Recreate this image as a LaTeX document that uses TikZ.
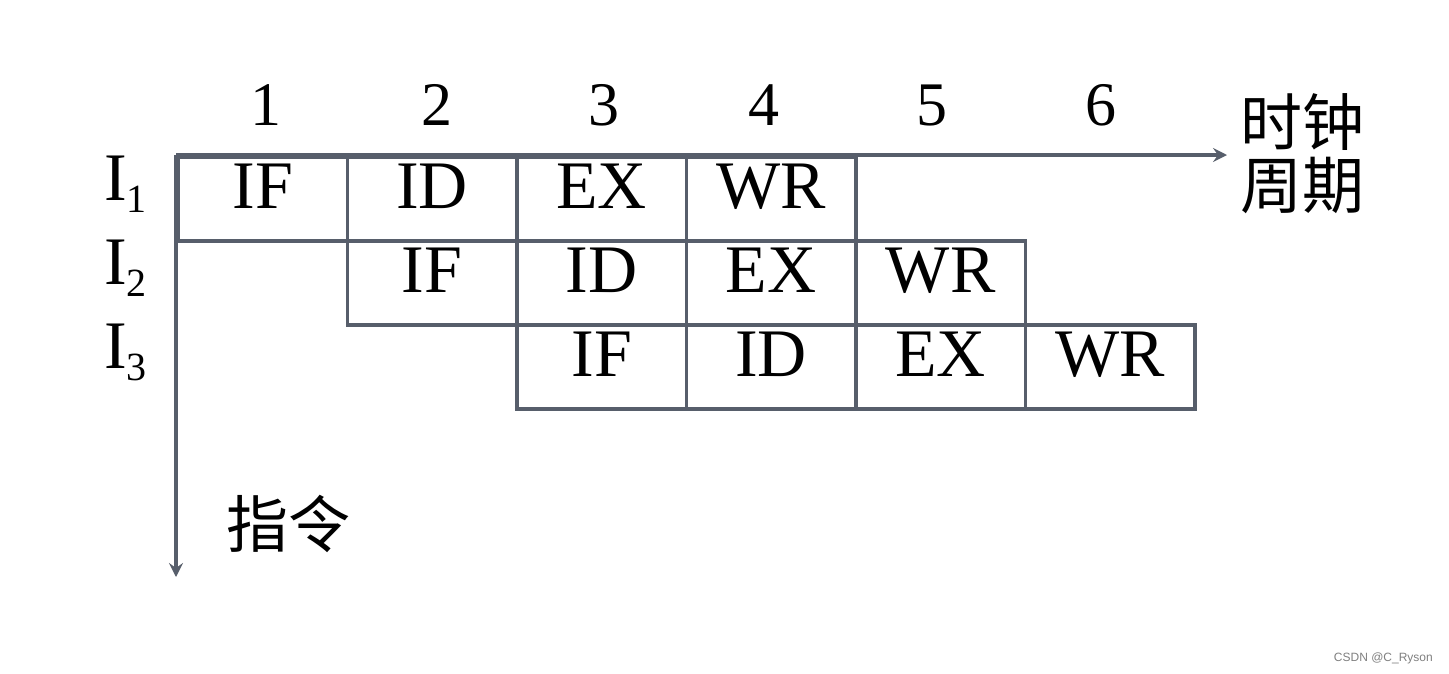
\documentclass[tikz,border=0pt]{standalone}
\usepackage{fontspec}
\setmainfont{Liberation Serif}
\newfontfamily\cjk{Noto Sans CJK SC}
\newfontfamily\wmfont{Liberation Sans}
\usetikzlibrary{arrows.meta}
\definecolor{linegray}{HTML}{575E6B}
\newcommand{\isub}[1]{\raisebox{-12pt}{\fontsize{40}{40}\selectfont #1}}
\begin{document}
\begin{tikzpicture}[x=1pt,y=-1pt,
  cell/.style={draw=linegray,line width=3.8pt,rectangle,anchor=north west,
    minimum width=169.5pt,minimum height=84pt,inner sep=0pt,
    text height=52pt,text depth=32pt,font=\fontsize{68}{80}\selectfont},
  axis/.style={draw=linegray,line width=3.2pt,-{Stealth[length=14pt,width=14pt,inset=5pt]}},
  num/.style={anchor=base,font=\fontsize{62}{70}\selectfont},
  ilab/.style={anchor=base west,inner sep=0pt,font=\fontsize{68}{80}\selectfont},
  cjklab/.style={font=\cjk\fontsize{62}{70}\selectfont,inner sep=0pt}]
\useasboundingbox (0,0) rectangle (1449,673);
\fill[white] (0,0) rectangle (1449,673);
% cells
\node[cell] (a1) at (176,155) {IF};
\node[cell] (a2) at (345.5,155) {ID};
\node[cell] (a3) at (515,155) {EX};
\node[cell] (a4) at (684.5,155) {WR};
\node[cell] (b1) at (345.5,239) {IF};
\node[cell] (b2) at (515,239) {ID};
\node[cell] (b3) at (684.5,239) {EX};
\node[cell] (b4) at (854,239) {WR};
\node[cell] (c1) at (515,323) {IF};
\node[cell] (c2) at (684.5,323) {ID};
\node[cell] (c3) at (854,323) {EX};
\node[cell] (c4) at (1023.5,323) {WR};
% axes
\coordinate (o) at (176,155);
\coordinate (xe) at (1227,155);
\coordinate (ye) at (176,577);
\draw[axis] (o) -- (xe);
\draw[axis] (o) -- (ye);
% numbers
\node[num] (n1) at (266,125) {1};
\node[num] (n2) at (437,125) {2};
\node[num] (n3) at (604,125) {3};
\node[num] (n4) at (764,125) {4};
\node[num] (n5) at (932,125) {5};
\node[num] (n6) at (1101,125) {6};
% instruction labels
\node[ilab] (i1) at (104,200) {I\isub{1}};
\node[ilab] (i2) at (104,284) {I\isub{2}};
\node[ilab] (i3) at (104,368) {I\isub{3}};
% CJK labels
\node[cjklab] (t1) at (1302,122) {时钟};
\node[cjklab] (t2) at (1302,185) {周期};
\node[cjklab] (t3) at (288,524) {指令};
% watermark
\node[anchor=base east,inner sep=0pt,text=gray,font=\wmfont\fontsize{12}{14}\selectfont] (wm) at (1433,661) {CSDN @C\_Ryson};
\end{tikzpicture}
\end{document}
